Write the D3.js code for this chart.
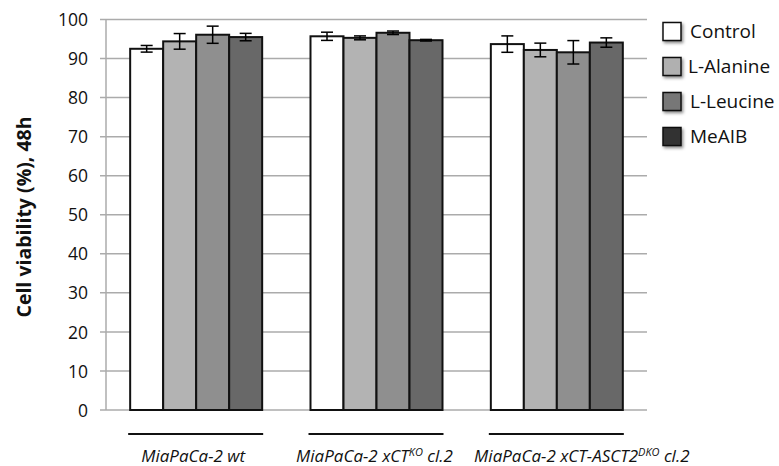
<!DOCTYPE html>
<html><head><meta charset="utf-8">
<script src="https://cdn.jsdelivr.net/npm/d3@7"></script>
<style>body{margin:0;background:#fff}svg{display:block}</style>
</head><body>
<svg id="c" width="779" height="466"></svg>
<script>
const groups = ["MiaPaCa-2 wt", "MiaPaCa-2 xCT-KO cl.2", "MiaPaCa-2 xCT-ASCT2-DKO cl.2"];
const series = ["Control", "L-Alanine", "L-Leucine", "MeAIB"];
const values = [
  [92.5, 94.4, 96.1, 95.5],
  [95.7, 95.3, 96.6, 94.7],
  [93.7, 92.2, 91.6, 94.1]
];
const errors = [
  [0.85, 2.0, 2.2, 0.95],
  [1.05, 0.5, 0.45, 0.2],
  [2.1, 1.75, 3.0, 1.2]
];
const yTicks = [0,10,20,30,40,50,60,70,80,90,100];
const barColors = ["#ffffff", "#b3b3b3", "#8f8f8f", "#686868"];
const legendColors = ["#ffffff", "#b0b0b0", "#777777", "#333333"];

(function(){
const svg = d3.select("#c");
const F = "'Open Sans', sans-serif";
const pL = 106, pR = 647, pT = 19.5, pB = 410;

const y = d3.scaleLinear().domain([0,100]).range([pB, pT]);
const x0 = d3.scaleBand().domain(groups).range([pL, pR]).paddingInner(0.268).paddingOuter(0.134);
const x1 = d3.scaleBand().domain(series).range([0, x0.bandwidth()]);

// gridlines
svg.append("g").selectAll("line").data(yTicks).join("line")
  .attr("x1", pL - 6).attr("x2", pR)
  .attr("y1", d => y(d)).attr("y2", d => y(d))
  .attr("stroke", "#ababab").attr("stroke-width", 1.5);
// y axis line
svg.append("line").attr("x1", pL).attr("x2", pL).attr("y1", pT).attr("y2", pB)
  .attr("stroke", "#ababab").attr("stroke-width", 1.5);
// tick labels
const yAxis = d3.axisLeft(y).tickValues(yTicks).tickSize(0).tickPadding(0);
const ga = svg.append("g").attr("transform", `translate(${pL - 18},0)`).call(yAxis);
ga.select(".domain").remove();
ga.selectAll("text").attr("font-family", F).attr("font-size", 17.5).attr("fill", "#111").attr("dy", "0.35em");

const rows = (g, gi) => series.map((s, si) => ({s, si, v: values[gi][si], e: errors[gi][si]}));
// bars
const gg = svg.append("g").selectAll("g").data(groups).join("g")
  .attr("transform", d => `translate(${x0(d)},0)`);
gg.selectAll("rect").data(rows)
  .join("rect")
  .attr("x", d => x1(d.s)).attr("width", x1.bandwidth())
  .attr("y", d => y(d.v)).attr("height", d => y(0) - y(d.v))
  .attr("fill", d => barColors[d.si]).attr("stroke", "#111").attr("stroke-width", 2);
// error bars
const eb = gg.selectAll("g.eb").data(rows)
  .join("g").attr("class", "eb").attr("transform", d => `translate(${x1(d.s) + x1.bandwidth()/2},0)`);
eb.append("line").attr("y1", d => y(d.v + d.e)).attr("y2", d => y(d.v - d.e)).attr("stroke", "#000").attr("stroke-width", 1.5);
eb.append("line").attr("x1", -6).attr("x2", 6).attr("y1", d => y(d.v + d.e)).attr("y2", d => y(d.v + d.e)).attr("stroke", "#000").attr("stroke-width", 1.5);
eb.append("line").attr("x1", -6).attr("x2", 6).attr("y1", d => y(d.v - d.e)).attr("y2", d => y(d.v - d.e)).attr("stroke", "#000").attr("stroke-width", 1.5);

// group underline and labels
const lab = svg.append("g").selectAll("g").data(groups).join("g")
  .attr("transform", d => `translate(${x0(d)},0)`);
lab.append("line").attr("x1", -2).attr("x2", x0.bandwidth() + 1).attr("y1", 434).attr("y2", 434)
  .attr("stroke", "#111").attr("stroke-width", 2);
const labelParts = [
  [["MiaPaCa-2 wt", false]],
  [["MiaPaCa-2 xCT", false], ["KO", true], [" cl.2", false]],
  [["MiaPaCa-2 xCT-ASCT2", false], ["DKO", true], [" cl.2", false]]
];
const labelShift = [-3, -2, 25];
lab.append("text").attr("x", (d, i) => x0.bandwidth()/2 + labelShift[i]).attr("y", 462)
  .attr("text-anchor", "middle").attr("font-family", F).attr("font-style", "italic")
  .attr("font-size", 17).attr("fill", "#111")
  .each(function(d, i) {
    const t = d3.select(this);
    labelParts[i].forEach(([txt, sup], k) => {
      const ts = t.append("tspan").text(txt);
      if (sup) ts.attr("font-size", 11).attr("dy", -6);
      else if (k > 0) ts.attr("dy", 6);
    });
  });

// y title
svg.append("text").attr("transform", "translate(31,217) rotate(-90)")
  .attr("text-anchor", "middle").attr("font-family", F).attr("font-weight", "bold")
  .attr("font-size", 19.5).attr("fill", "#111").text("Cell viability (%), 48h");

// legend
const defs = svg.append("defs");
const flt = defs.append("filter").attr("id", "sh").attr("x", "-30%").attr("y", "-30%").attr("width", "170%").attr("height", "170%");
flt.append("feDropShadow").attr("dx", 1.5).attr("dy", 2).attr("stdDeviation", 1.5).attr("flood-color", "#000").attr("flood-opacity", 0.45);
const lg = svg.append("g").selectAll("g").data(series).join("g")
  .attr("transform", (d, i) => `translate(663,${31.5 + i * 35})`);
lg.append("rect").attr("x", 0).attr("y", -9).attr("width", 18).attr("height", 18)
  .attr("fill", (d, i) => legendColors[i]).attr("stroke", "#111").attr("stroke-width", 1.5)
  .attr("filter", "url(#sh)");
lg.append("text").attr("x", (d, i) => i === 1 ? 25 : 27).attr("y", 0).attr("dy", "0.36em")
  .attr("font-family", F).attr("font-size", 19).attr("fill", "#111").text(d => d);
})();
</script>
</body></html>
